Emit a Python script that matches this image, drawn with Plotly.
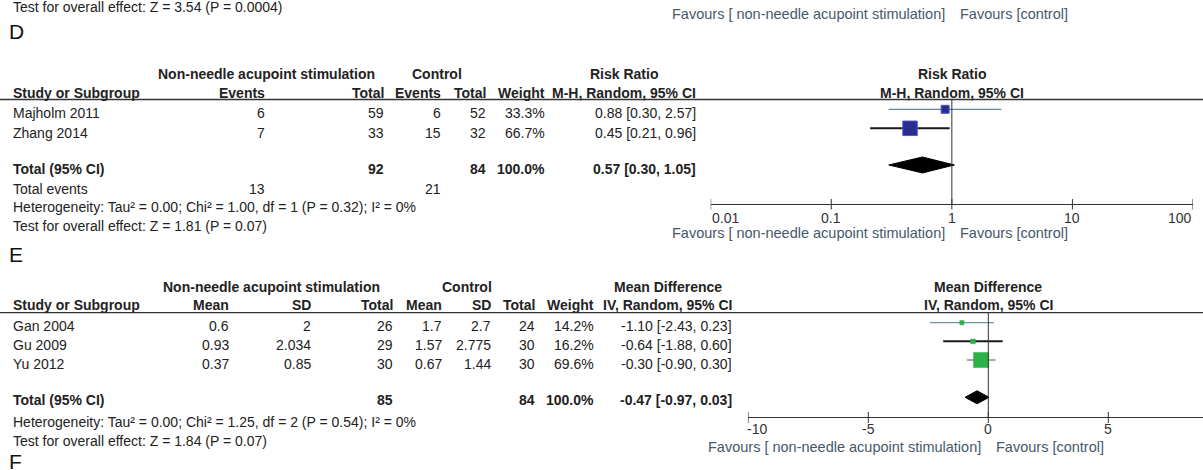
import math
import plotly.graph_objects as go

W, H = 1203, 470

# ---------------- data ----------------
prev_test = "Test for overall effect: Z = 3.54 (P = 0.0004)"
fav_left = "Favours [ non-needle acupoint stimulation]"
fav_right = "Favours [control]"

# Panel D (Risk Ratio)
d_studies = ["Majholm 2011", "Zhang 2014"]
d_exp_events = [6, 7]
d_exp_total = [59, 33]
d_ctl_events = [6, 15]
d_ctl_total = [52, 32]
d_weight = [33.3, 66.7]
d_rr = [0.88, 0.45]
d_lo = [0.30, 0.21]
d_hi = [2.57, 0.96]
d_sum_exp_total = 92
d_sum_ctl_total = 84
d_sum_weight = 100.0
d_sum_rr = 0.57
d_sum_lo = 0.30
d_sum_hi = 1.05
d_sum_exp_events = 13
d_sum_ctl_events = 21
d_het = "Heterogeneity: Tau² = 0.00; Chi² = 1.00, df = 1 (P = 0.32); I² = 0%"
d_test = "Test for overall effect: Z = 1.81 (P = 0.07)"
d_ticks = [0.01, 0.1, 1, 10, 100]
d_ticklabels = ["0.01", "0.1", "1", "10", "100"]

# Panel E (Mean Difference)
e_studies = ["Gan 2004", "Gu 2009", "Yu 2012"]
e_exp_mean = ["0.6", "0.93", "0.37"]
e_exp_sd = ["2", "2.034", "0.85"]
e_exp_total = [26, 29, 30]
e_ctl_mean = ["1.7", "1.57", "0.67"]
e_ctl_sd = ["2.7", "2.775", "1.44"]
e_ctl_total = [24, 30, 30]
e_weight = [14.2, 16.2, 69.6]
e_md = [-1.10, -0.64, -0.30]
e_lo = [-2.43, -1.88, -0.90]
e_hi = [0.23, 0.60, 0.30]
e_sum_exp_total = 85
e_sum_ctl_total = 84
e_sum_weight = 100.0
e_sum_md = -0.47
e_sum_lo = -0.97
e_sum_hi = 0.03
e_het = "Heterogeneity: Tau² = 0.00; Chi² = 1.25, df = 2 (P = 0.54); I² = 0%"
e_test = "Test for overall effect: Z = 1.84 (P = 0.07)"
e_ticks = [-10, -5, 0, 5]
e_ticklabels = ["-10", "-5", "0", "5"]

# ---------------- styling helpers ----------------
FONT = "Liberation Sans, Arial, sans-serif"
TXT = "#222222"
FAV = "#46586a"
LINE = "#333333"
FS = 14
FS_FAV = 14.5

ann = []
shapes = []


def px(x):
    return x / W


def py(y):
    return 1 - y / H


def txt(s, x, y, anchor="left", bold=False, size=FS, color=TXT):
    if bold:
        s = "<b>" + s + "</b>"
    ann.append(dict(text=s, x=px(x), y=py(y), xref="paper", yref="paper",
                    xanchor=anchor, yanchor="middle", showarrow=False,
                    borderpad=0, font=dict(family=FONT, size=size, color=color)))


def axtxt(s, xval, y, xref, anchor="center", color=TXT, bold=False, xshift=0, size=FS):
    # annotation placed through an axis scale (log axes need log10 of the value)
    if xref == "x2":
        xval = math.log10(xval)
    if bold:
        s = "<b>" + s + "</b>"
    ann.append(dict(text=s, x=xval, xshift=xshift, y=py(y), xref=xref, yref="paper",
                    xanchor=anchor, yanchor="middle", showarrow=False, borderpad=0,
                    font=dict(family=FONT, size=size, color=color)))


def hline(y, x0=0, x1=W, width=1.3):
    shapes.append(dict(type="line", xref="paper", yref="paper", x0=px(x0), x1=px(x1),
                       y0=py(y), y1=py(y), line=dict(color=LINE, width=width)))


def num(v):
    return str(v)


fig = go.Figure()

# ---------------- top remnant of previous panel ----------------
txt(prev_test, 12, 7)
for t, lab in zip(d_ticks, d_ticklabels):
    anchor = "left" if t == d_ticks[0] else ("right" if t == d_ticks[-1] else "center")
    axtxt(lab, t, -5, "x2", anchor, LINE)
axtxt(fav_left, 1, 14, "x2", "right", FAV, xshift=-6, size=FS_FAV)
axtxt(fav_right, 1, 14, "x2", "left", FAV, xshift=7, size=FS_FAV)

# ---------------- Panel D ----------------
txt("D", 8, 32, size=21, color="#111111")
txt("Non-needle acupoint stimulation", 266, 74, "center", True)
txt("Control", 437, 74, "center", True)
txt("Risk Ratio", 624, 74, "center", True)
txt("Study or Subgroup", 12, 93, bold=True)
txt("Events", 266, 93, "right", True)
txt("Total", 385, 93, "right", True)
txt("Events", 442, 93, "right", True)
txt("Total", 487, 93, "right", True)
txt("Weight", 546, 93, "right", True)
txt("M-H, Random, 95% CI", 697, 93, "right", True)
axtxt("Risk Ratio", 1, 74, "x2", "center", TXT, True)
axtxt("M-H, Random, 95% CI", 1, 93, "x2", "center", TXT, True)
hline(99.5)

d_text_y = [113, 132.5]
for i, s in enumerate(d_studies):
    y = d_text_y[i]
    txt(s, 12, y)
    txt(num(d_exp_events[i]), 266, y, "right")
    txt(num(d_exp_total[i]), 385, y, "right")
    txt(num(d_ctl_events[i]), 442, y, "right")
    txt(num(d_ctl_total[i]), 487, y, "right")
    txt("%.1f%%" % d_weight[i], 546, y, "right")
    txt("%.2f [%.2f, %.2f]" % (d_rr[i], d_lo[i], d_hi[i]), 697, y, "right")
txt("Total (95% CI)", 12, 169, bold=True)
txt(num(d_sum_exp_total), 385, 169, "right", True)
txt(num(d_sum_ctl_total), 487, 169, "right", True)
txt("%.1f%%" % d_sum_weight, 546, 169, "right", True)
txt("%.2f [%.2f, %.2f]" % (d_sum_rr, d_sum_lo, d_sum_hi), 697, 169, "right", True)
txt("Total events", 12, 189)
txt(num(d_sum_exp_events), 266, 189, "right")
txt(num(d_sum_ctl_events), 442, 189, "right")
txt(d_het, 12, 207.5)
txt(d_test, 12, 226.5)

# D forest
d_rows = list(range(len(d_studies)))
d_total_row = 2.93
d_ci_styles = [dict(color="#3d6482", width=1), dict(color="#1a1a1a", width=2)]
for i in d_rows:
    fig.add_trace(go.Scatter(x=[d_lo[i], d_hi[i]], y=[i, i], mode="lines",
                             line=d_ci_styles[i], xaxis="x2", yaxis="y2",
                             hoverinfo="skip", showlegend=False))
fig.add_trace(go.Scatter(x=d_rr, y=d_rows, mode="markers", xaxis="x2", yaxis="y2",
                         marker=dict(symbol="square", size=[1.5 + 0.195 * w for w in d_weight],
                                     opacity=1, color="#2b2d8e",
                                     line=dict(color="#4d57c8", width=1)),
                         showlegend=False))
hd = 0.42
fig.add_trace(go.Scatter(x=[d_sum_lo, d_sum_rr, d_sum_hi, d_sum_rr, d_sum_lo],
                         y=[d_total_row, d_total_row - hd, d_total_row, d_total_row + hd, d_total_row],
                         mode="lines", fill="toself", fillcolor="#000000",
                         line=dict(color="#000000", width=1), xaxis="x2", yaxis="y2",
                         showlegend=False))
shapes.append(dict(type="line", xref="x2", yref="y2 domain", x0=1, x1=1, y0=0, y1=1,
                   line=dict(color=LINE, width=1)))
for t, lab in zip(d_ticks, d_ticklabels):
    shapes.append(dict(type="line", xref="x2", yref="paper", x0=t, x1=t, y0=py(199), y1=py(209.5),
                       line=dict(color=LINE, width=1)))
    anchor = "left" if t == d_ticks[0] else ("right" if t == d_ticks[-1] else "center")
    axtxt(lab, t, 218, "x2", anchor, LINE)
axtxt(fav_left, 1, 232.5, "x2", "right", FAV, xshift=-6, size=FS_FAV)
axtxt(fav_right, 1, 232.5, "x2", "left", FAV, xshift=7, size=FS_FAV)

# ---------------- Panel E ----------------
txt("E", 8, 254, size=21, color="#111111")
txt("Non-needle acupoint stimulation", 271, 287, "center", True)
txt("Control", 466.5, 287, "center", True)
txt("Mean Difference", 668, 287, "center", True)
txt("Study or Subgroup", 12, 305, bold=True)
txt("Mean", 230, 305, "right", True)
txt("SD", 312, 305, "right", True)
txt("Total", 394, 305, "right", True)
txt("Mean", 443, 305, "right", True)
txt("SD", 492, 305, "right", True)
txt("Total", 536, 305, "right", True)
txt("Weight", 595, 305, "right", True)
txt("IV, Random, 95% CI", 733, 305, "right", True)
axtxt("Mean Difference", 0, 287, "x3", "center", TXT, True)
axtxt("IV, Random, 95% CI", 0, 305, "x3", "center", TXT, True)
hline(312.7)

e_text_y = [325.7, 345, 364.3]
for i, s in enumerate(e_studies):
    y = e_text_y[i]
    txt(s, 12, y)
    txt(e_exp_mean[i], 230, y, "right")
    txt(e_exp_sd[i], 312, y, "right")
    txt(num(e_exp_total[i]), 394, y, "right")
    txt(e_ctl_mean[i], 443, y, "right")
    txt(e_ctl_sd[i], 492, y, "right")
    txt(num(e_ctl_total[i]), 536, y, "right")
    txt("%.1f%%" % e_weight[i], 595, y, "right")
    txt("%.2f [%.2f, %.2f]" % (e_md[i], e_lo[i], e_hi[i]), 733, y, "right")
txt("Total (95% CI)", 12, 400, bold=True)
txt(num(e_sum_exp_total), 394, 400, "right", True)
txt(num(e_sum_ctl_total), 536, 400, "right", True)
txt("%.1f%%" % e_sum_weight, 595, 400, "right", True)
txt("%.2f [%.2f, %.2f]" % (e_sum_md, e_sum_lo, e_sum_hi), 733, 400, "right", True)
txt(e_het, 12, 421.7)
txt(e_test, 12, 440.5)
txt("F", 8, 461, size=21, color="#111111")

# E forest
e_rows = list(range(len(e_studies)))
e_total_row = 4.0
e_ci_styles = [dict(color="#4a7a88", width=1), dict(color="#1a1a1a", width=2),
               dict(color="#555555", width=1)]
for i in e_rows:
    fig.add_trace(go.Scatter(x=[e_lo[i], e_hi[i]], y=[i, i], mode="lines",
                             line=e_ci_styles[i], xaxis="x3", yaxis="y3",
                             hoverinfo="skip", showlegend=False))
fig.add_trace(go.Scatter(x=e_md, y=e_rows, mode="markers", xaxis="x3", yaxis="y3",
                         marker=dict(symbol="square", size=[1.5 + 0.195 * w for w in e_weight],
                                     opacity=1, color="#2db24a",
                                     line=dict(color="#2db24a", width=0.5)),
                         showlegend=False))
he = 0.35
fig.add_trace(go.Scatter(x=[e_sum_lo, e_sum_md, e_sum_hi, e_sum_md, e_sum_lo],
                         y=[e_total_row, e_total_row - he, e_total_row, e_total_row + he, e_total_row],
                         mode="lines", fill="toself", fillcolor="#000000",
                         line=dict(color="#000000", width=1), xaxis="x3", yaxis="y3",
                         showlegend=False))
shapes.append(dict(type="line", xref="x3", yref="y3 domain", x0=0, x1=0, y0=0, y1=1,
                   line=dict(color=LINE, width=1)))
for t, lab in zip(e_ticks, e_ticklabels):
    shapes.append(dict(type="line", xref="x3", yref="paper", x0=t, x1=t, y0=py(412), y1=py(423),
                       line=dict(color=LINE, width=1)))
    anchor = "left" if t == e_ticks[0] else "center"
    axtxt(lab, t, 428.5, "x3", anchor, LINE, xshift=(-2 if anchor == "left" else 0))
axtxt(fav_left, 0, 447, "x3", "right", FAV, xshift=-6, size=FS_FAV)
axtxt(fav_right, 0, 447, "x3", "left", FAV, xshift=7, size=FS_FAV)

# ---------------- layout ----------------
d_s = 19.0
d_r0 = 109.3
e_s = 18.65
e_r0 = 322.7

fig.update_layout(
    width=W, height=H, margin=dict(l=0, r=0, t=0, b=0),
    paper_bgcolor="white", plot_bgcolor="white", showlegend=False,
    xaxis=dict(visible=False), yaxis=dict(visible=False),
    xaxis2=dict(type="log", domain=[710.7 / W, 1193 / W], range=[-2, 2], anchor="y2",
                showline=True, linecolor=LINE, linewidth=1, showgrid=False, zeroline=False,
                showticklabels=False, ticks=""),
    yaxis2=dict(domain=[py(204), py(99.5)], anchor="x2",
                range=[(204 - d_r0) / d_s, (99.5 - d_r0) / d_s],
                visible=False),
    xaxis3=dict(domain=[748.3 / W, 1.0], range=[-10, -10 + (W - 748.3) / 24.0], anchor="y3",
                showline=True, linecolor=LINE, linewidth=1, showgrid=False, zeroline=False,
                showticklabels=False, ticks=""),
    yaxis3=dict(domain=[py(417.3), py(312.7)], anchor="x3",
                range=[(417.3 - e_r0) / e_s, (312.7 - e_r0) / e_s],
                visible=False),
    annotations=ann, shapes=shapes,
)

fig.write_html("out.html")
